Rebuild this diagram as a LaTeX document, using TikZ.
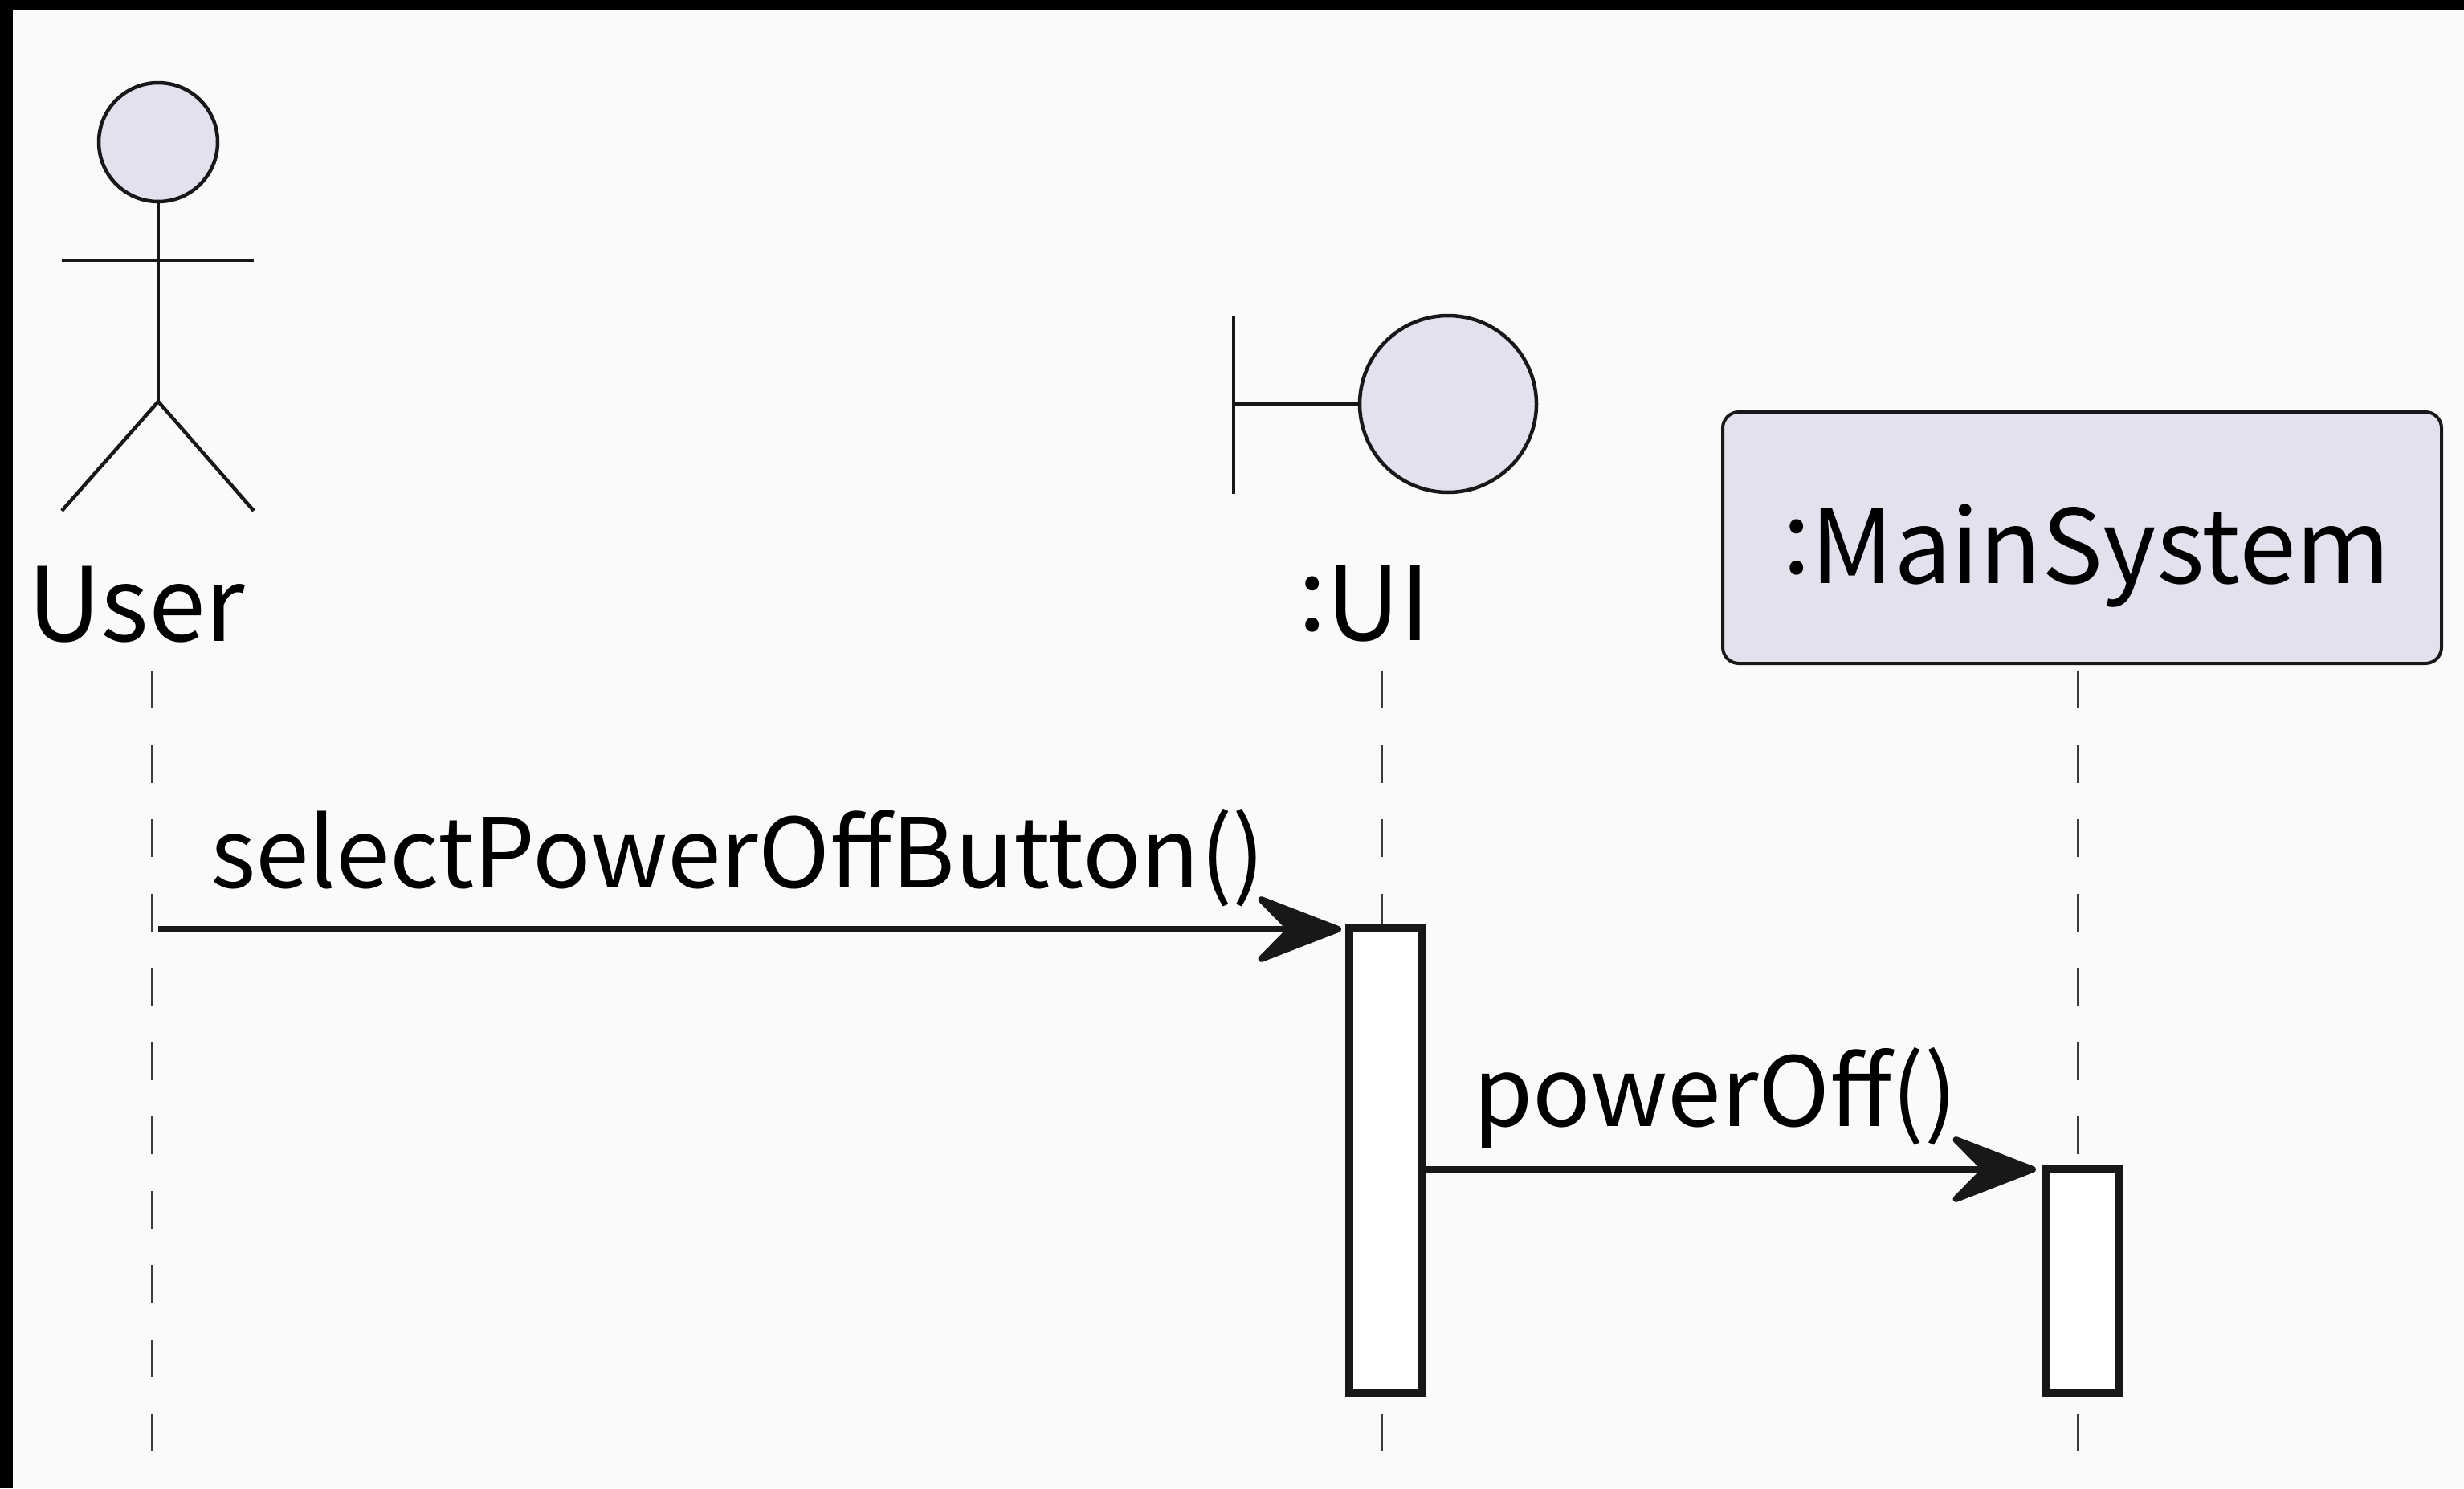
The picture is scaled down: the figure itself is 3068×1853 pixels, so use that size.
\documentclass[tikz,border=0pt]{standalone}
\usepackage{fontspec}
\setmainfont{Noto Sans CJK SC}
\usetikzlibrary{arrows.meta,calc}
\definecolor{bgc}{HTML}{FAFAFA}
\definecolor{partfill}{HTML}{E1E2EE}
\definecolor{ink}{HTML}{181818}
\newcommand{\cln}{\raisebox{12pt}{:}}
\tikzset{
  x=1pt,y=1pt,
  actorline/.style={draw=ink,line width=4.5pt},
  partshape/.style={circle,draw=ink,line width=4.5pt,fill=partfill,inner sep=0pt,outer sep=0pt},
  lifeline/.style={draw=ink!85!white,line width=3pt,dash pattern=on 47pt off 45.5pt},
  activ/.style={rectangle,draw=ink,line width=10pt,fill=white,inner sep=0pt,minimum width=90pt},
  msg/.style={draw=ink,line width=8pt,-{Stealth[length=122pt,width=94pt,inset=46pt,line width=8pt,round]}},
  lbl/.style={inner sep=0pt,outer sep=0pt,anchor=base west,text=black},
  partlbl/.style={lbl,font=\fontsize{127.5}{130}\selectfont},
  msglbl/.style={lbl,font=\fontsize{120}{122}\selectfont},
}
\begin{document}
\begin{tikzpicture}
\useasboundingbox (0,0) rectangle (3068,-1853);
\fill[bgc] (0,0) rectangle (3068,-1853);
\fill[black] (0,0) rectangle (3068,-12);
\fill[black] (0,0) rectangle (16,-1853);
% lifelines
\coordinate (ut) at (189,-835); \coordinate (ub) at (189,-1807);
\coordinate (it) at (1720,-835); \coordinate (ib) at (1720,-1807);
\coordinate (mt) at (2587,-835); \coordinate (mb) at (2587,-1807);
\draw[lifeline] (ut) -- (ub);
\draw[lifeline] (it) -- (ib);
\draw[lifeline] (mt) -- (mb);
% actor
\node[partshape,minimum size=148pt] (head) at (197,-177) {};
\coordinate (hip) at (197,-500);
\coordinate (armL) at (77,-324); \coordinate (armR) at (316,-324);
\coordinate (legL) at (77,-636); \coordinate (legR) at (316,-636);
\draw[actorline] (head.south) -- (hip);
\draw[actorline] (armL) -- (armR);
\draw[actorline,line join=round] (legL) -- (hip) -- (legR);
\node[partlbl] (user) at (34,-798) {User};
% boundary
\node[partshape,minimum size=220pt] (bound) at (1803,-503) {};
\coordinate (barT) at (1536,-394); \coordinate (barB) at (1536,-615);
\draw[actorline] (barT) -- (barB);
\draw[actorline] (barT|-bound.west) -- (bound.west);
\node[partlbl] (ui) at (1616,-797) {\cln UI};
% main system
\node[rectangle,rounded corners=20pt,draw=ink,line width=4pt,fill=partfill,minimum width=895pt,minimum height=313pt,inner sep=0pt] (main) at (2592.5,-669.5) {};
\node[partlbl] (maintext) at (2219,-726) {\cln MainSystem};
% activations
\node[activ,minimum height=579pt] (a1) at (1725,-1444.5) {};
\node[activ,minimum height=278pt] (a2) at (2593,-1595) {};
% messages
\coordinate (m1) at (197,-1157);
\coordinate (m2) at (1775,-1456);
\draw[msg,shorten >=5pt] (m1) -- (m1-|a1.west);
\draw[msg,shorten >=8pt] (m2) -- (m2-|a2.west);
\node[msglbl] (l1) at (262,-1105) {selectPowerOffButton()};
\node[msglbl] (l2) at (1834,-1402) {powerOff()};
\end{tikzpicture}
\end{document}
